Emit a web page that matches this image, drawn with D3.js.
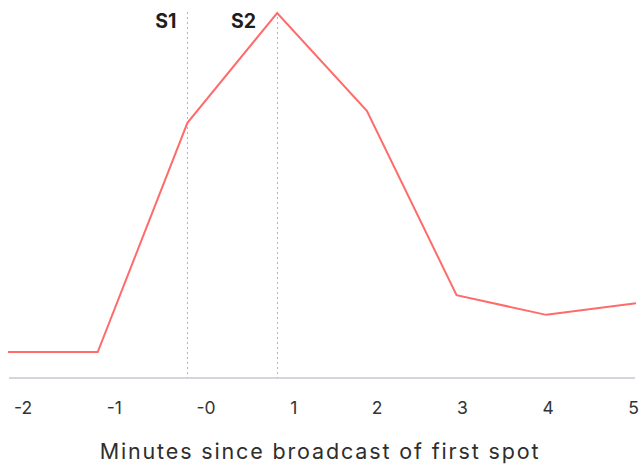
<!DOCTYPE html>
<html>
<head>
<meta charset="utf-8">
<script src="https://cdn.jsdelivr.net/npm/d3@7"></script>
<style>
  html, body { margin: 0; padding: 0; background: #fff; }
  svg { display: block; font-family: Inter, "Noto Sans", sans-serif; }
</style>
</head>
<body>
<svg id="chart" width="639" height="465"></svg>
<script>
// Viewing index per minute around the first spot
const steps = [0, 1, 2, 3, 4, 5, 6, 7];
const values = [7.1, 7.1, 69.9, 100, 73.2, 22.7, 17.3, 20.5];
const tickLabels = ["-2", "-1", "-0", "1", "2", "3", "4", "5"];
const spotLabels = ["S1", "S2"];
const spotSteps = [2, 3];
const axisTitle = "Minutes since broadcast of first spot";

const width = 639, height = 465;
const svg = d3.select("#chart");

const x = d3.scaleLinear().domain([0, 7]).range([8, 636]);
const y = d3.scaleLinear().domain([0, 100]).range([378, 13]);

// baseline
svg.append("line")
  .attr("x1", 9).attr("x2", 635)
  .attr("y1", y(0)).attr("y2", y(0))
  .attr("stroke", "#a9abc4").attr("stroke-width", 1.2);

// spot markers
const labelGap = [11, 21];
const spotG = svg.append("g");
spotG.selectAll("line").data(spotSteps).join("line")
  .attr("x1", d => Math.round(x(d)) + 0.5)
  .attr("x2", d => Math.round(x(d)) + 0.5)
  .attr("y1", 12).attr("y2", y(0))
  .attr("stroke", "#b5b5b5").attr("stroke-width", 1)
  .attr("stroke-dasharray", "2,3");
spotG.selectAll("text").data(spotLabels).join("text")
  .attr("x", (d, i) => x(spotSteps[i]) - labelGap[i])
  .attr("y", 28)
  .attr("text-anchor", "end")
  .attr("font-size", 19.5)
  .attr("font-weight", 700)
  .attr("fill", "#1e1e1e")
  .text(d => d);

// line
svg.append("path")
  .datum(steps)
  .attr("fill", "none")
  .attr("stroke", "#ff6b6b")
  .attr("stroke-width", 2)
  .attr("stroke-linejoin", "miter")
  .attr("d", d3.line().x(i => x(i)).y(i => y(values[i])));

// tick labels, spread edge to edge with equal gaps between them
const tg = svg.append("g")
  .attr("font-size", 17.5)
  .attr("fill", "#333");
const labels = tg.selectAll("text").data(tickLabels).join("text")
  .attr("y", 414)
  .text(d => d);
const widths = labels.nodes().map(n => n.getComputedTextLength());
const left = 14, right = 639;
const gap = (right - left - d3.sum(widths)) / (tickLabels.length - 1);
let cursor = left;
labels.attr("x", (d, i) => {
  const pos = cursor;
  cursor += widths[i] + gap;
  return pos;
});

// axis title
svg.append("text")
  .attr("x", 320).attr("y", 459)
  .attr("text-anchor", "middle")
  .attr("font-size", 21.5)
  .attr("letter-spacing", 1.85)
  .attr("fill", "#2e2e2e")
  .text(axisTitle);
</script>
</body>
</html>
